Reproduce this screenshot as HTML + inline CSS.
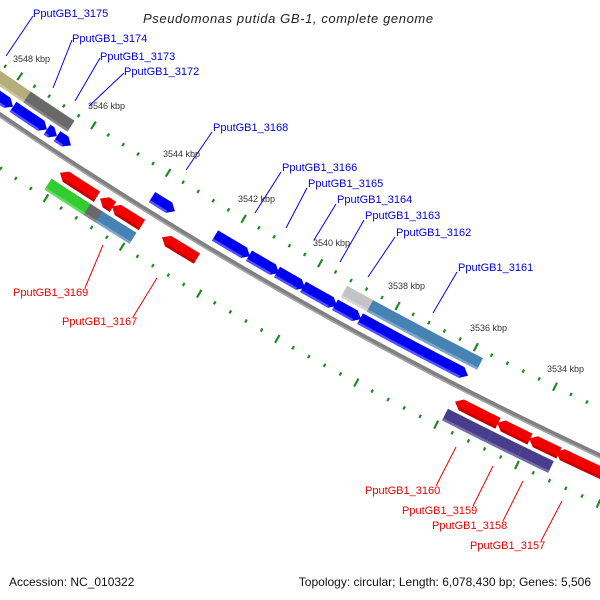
<!DOCTYPE html>
<html><head><meta charset="utf-8">
<style>
html,body{margin:0;padding:0;background:#fff;}
svg{display:block;}
text{font-family:"Liberation Sans","DejaVu Sans",sans-serif;}
.lb{fill:#0000ee;font-size:11px;}
.lr{fill:#ee0000;font-size:11px;}
.tk{fill:#333;font-size:9px;}
</style></head>
<body>
<svg id="s" width="600" height="600" viewBox="0 0 600 600" xmlns="http://www.w3.org/2000/svg">
<g id="g"></g>
<text x="143" y="23" font-size="13" font-style="italic" fill="#222" letter-spacing="0.6">Pseudomonas putida GB-1, complete genome</text>
<text x="9" y="586" font-size="12" fill="#111">Accession: NC_010322</text>
<text x="591" y="586" font-size="12" fill="#111" text-anchor="end">Topology: circular; Length: 6,078,430 bp; Genes: 5,506</text>

<g stroke-width="1">
<line x1="33" y1="16" x2="6" y2="56" stroke="#0000ee"/>
<line x1="72" y1="40" x2="53" y2="88" stroke="#0000ee"/>
<line x1="100" y1="58" x2="75" y2="101" stroke="#0000ee"/>
<line x1="124" y1="73" x2="89" y2="106" stroke="#0000ee"/>
<line x1="212" y1="132" x2="186" y2="170" stroke="#0000ee"/>
<line x1="281" y1="172" x2="255" y2="213" stroke="#0000ee"/>
<line x1="307" y1="188" x2="286" y2="228" stroke="#0000ee"/>
<line x1="336" y1="204" x2="314" y2="240" stroke="#0000ee"/>
<line x1="364" y1="220" x2="340" y2="262" stroke="#0000ee"/>
<line x1="395" y1="237" x2="368" y2="277" stroke="#0000ee"/>
<line x1="457" y1="272" x2="433" y2="313" stroke="#0000ee"/>
<line x1="85" y1="288" x2="103" y2="245" stroke="#ee0000"/>
<line x1="133" y1="317" x2="157" y2="278" stroke="#ee0000"/>
<line x1="436" y1="486" x2="456" y2="447" stroke="#ee0000"/>
<line x1="473" y1="506" x2="493" y2="466" stroke="#ee0000"/>
<line x1="503" y1="521" x2="523" y2="481" stroke="#ee0000"/>
<line x1="541" y1="541" x2="562" y2="501" stroke="#ee0000"/>
</g>
<text class="lb" x="33" y="17">PputGB1_3175</text>
<text class="lb" x="72" y="42">PputGB1_3174</text>
<text class="lb" x="100" y="60">PputGB1_3173</text>
<text class="lb" x="124" y="75">PputGB1_3172</text>
<text class="lb" x="213" y="131">PputGB1_3168</text>
<text class="lb" x="282" y="171">PputGB1_3166</text>
<text class="lb" x="308" y="187">PputGB1_3165</text>
<text class="lb" x="337" y="203">PputGB1_3164</text>
<text class="lb" x="365" y="219">PputGB1_3163</text>
<text class="lb" x="396" y="236">PputGB1_3162</text>
<text class="lb" x="458" y="271">PputGB1_3161</text>
<text class="lr" x="13" y="296">PputGB1_3169</text>
<text class="lr" x="62" y="325">PputGB1_3167</text>
<text class="lr" x="365" y="494">PputGB1_3160</text>
<text class="lr" x="402" y="514">PputGB1_3159</text>
<text class="lr" x="432" y="529">PputGB1_3158</text>
<text class="lr" x="470" y="549">PputGB1_3157</text>

<text class="tk" x="13" y="62">3548 kbp</text>
<text class="tk" x="88" y="109">3546 kbp</text>
<text class="tk" x="163" y="157">3544 kbp</text>
<text class="tk" x="238" y="202">3542 kbp</text>
<text class="tk" x="313" y="246">3540 kbp</text>
<text class="tk" x="388" y="289">3538 kbp</text>
<text class="tk" x="470" y="331">3536 kbp</text>
<text class="tk" x="547" y="372">3534 kbp</text>
</svg>
<script>
(function(){
var CX=2426,CY=-3456,R0=4317,NS="http://www.w3.org/2000/svg";
var g=document.getElementById("g");
function th(x,r){return Math.acos((x-CX)/(r||R0));}
function P(t,r){return [CX+r*Math.cos(t),CY+r*Math.sin(t)];}
function add(tag,at){var e=document.createElementNS(NS,tag);for(var k in at)e.setAttribute(k,at[k]);g.appendChild(e);return e;}
function pts(a){return a.map(function(p){return p[0].toFixed(2)+","+p[1].toFixed(2);}).join(" ");}
function feat(x1,x2,off,w,col,dir,light){
 var ta=th(x1,R0+off),tb=th(x2,R0+off);
 var r1=R0+off-w/2,r2=R0+off+w/2,rm=R0+off,h=7/R0;
 var A=[],B=[],n=12,i,t;
 var s=ta,e=tb;
 if(dir==1)e=tb+h; if(dir==-1)s=ta-h;
 for(i=0;i<=n;i++){t=s+(e-s)*i/n;A.push(P(t,r1));}
 for(i=n;i>=0;i--){t=s+(e-s)*i/n;B.push(P(t,r2));}
 var poly=[];
 if(dir==-1)poly.push(P(ta,rm));
 poly=poly.concat(A);
 if(dir==1)poly.push(P(tb,rm));
 poly=poly.concat(B);
 add("polygon",{points:pts(poly),fill:col});
 var L=[];
 for(i=0;i<=n;i++){t=s+(e-s)*i/n;L.push(P(t,r2-2.5));}
 for(i=n;i>=0;i--){t=s+(e-s)*i/n;L.push(P(t,r2));}
 add("polygon",{points:pts(L),fill:light,opacity:0.9});
}
var bb=[];
for(var x=-20;x<=640;x+=10){bb.push(P(th(x),R0));}
add("polyline",{points:pts(bb),fill:"none",stroke:"#808080","stroke-width":5});
add("polyline",{points:pts(bb),fill:"none",stroke:"#a8a8a8","stroke-width":1.2,transform:"translate(-0.8,1.4)"});
var tA=Math.atan2(123-CY,95-CX),tB=Math.atan2(345-CY,477-CX),d=(tA-tB)/10;
for(var k=3520;k<=3560;k+=0.4){
 var tt=tA+(k-3546)*d, big=Math.abs((k/2)-Math.round(k/2))<0.01;
 [-43,44].forEach(function(o){
  var L=big?9:3.5,p1=P(tt,R0+o-L/2),p2=P(tt,R0+o+L/2);
  if((p1[0]<-10&&p2[0]<-10)||p1[0]>610)return;
  add("line",{x1:p1[0],y1:p1[1],x2:p2[0],y2:p2[1],stroke:"#1e8c1e","stroke-width":2.2});
 });
}
var BL="#0000f0",BLl="#5a5aff";
[[-10,13],[13,47],[47,57],[57,71],[152,175],[215,250],[249,279],[277,305],[303,337],[335,361],[360,468]].forEach(function(f){feat(f[0],f[1],-14,12,BL,1,BLl);});
feat(-10,27,-30,13,"#b5ae7a",0,"#cfc9a0");
feat(27,71,-30,13,"#696969",0,"#8a8a8a");
feat(344,372,-30,13,"#c4c4c4",0,"#d8d8d8");
feat(370,480,-30,13,"#4682b4",0,"#7fa8cf");
var RD="#f00000",RDl="#c00000";
[[60,97],[100,113],[112,142],[162,197],[455,498],[497,530],[529,559],[556,640]].forEach(function(f){feat(f[0],f[1],15,12,RD,-1,RDl);});
feat(48,88,31,13,"#33cc33",0,"#66dd66");
feat(87,100,31,13,"#696969",0,"#8a8a8a");
feat(99,133,31,13,"#4682b4",0,"#7fa8cf");
feat(445,489,31,13,"#483d8b",0,"#7a70b0");
feat(489,520,31,13,"#483d8b",0,"#7a70b0");
feat(520,551,31,13,"#483d8b",0,"#7a70b0");
})();
</script>
</body></html>
